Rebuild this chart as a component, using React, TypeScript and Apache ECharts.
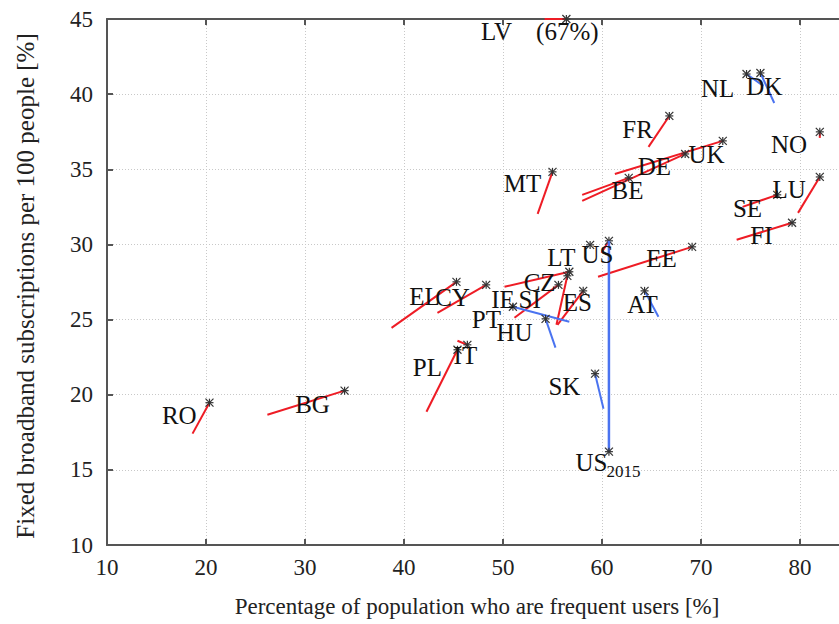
import React, { useEffect, useRef } from "react";
import * as echarts from "echarts";

// Country codes (data points), latest values (star) and earlier values (tail)
const countries = ["LV", "NL", "DK", "FR", "NO", "UK", "DE", "MT", "BE", "LU", "SE", "FI", "EE", "US", "LT", "CZ", "IE", "SI", "ES", "PT", "HU", "AT", "SK", "EL", "CY", "IT", "PL", "RO", "BG"];
const usersNow = [56.4, 74.6, 76.0, 66.8, 82.0, 72.2, 68.4, 55.0, 62.7, 82.0, 77.7, 79.2, 69.1, 60.7, 58.8, 56.7, 56.5, 55.6, 58.1, 51.0, 54.3, 64.3, 59.3, 45.3, 48.3, 46.4, 45.4, 20.35, 34.0];
const broadbandNow = [67.0, 41.34, 41.41, 38.55, 37.49, 36.89, 36.02, 34.83, 34.43, 34.49, 33.3, 31.44, 29.84, 30.24, 29.97, 28.18, 27.91, 27.31, 26.91, 25.85, 25.05, 26.91, 21.4, 27.51, 27.31, 23.32, 22.99, 19.47, 20.27];
const usersPrev = [54.2, 76.3, 77.4, 64.7, 82.0, 61.3, 58.0, 53.5, 58.0, 79.8, 74.2, 73.6, 59.6, 59.95, 58.8, 50.15, 55.4, 51.16, 55.5, 56.7, 55.3, 65.7, 60.15, 38.74, 43.38, 45.4, 42.27, 18.64, 26.2];
const broadbandPrev = [67.0, 40.55, 39.41, 36.49, 37.09, 34.69, 32.9, 32.03, 33.3, 32.1, 32.5, 30.31, 27.85, 29.44, 29.97, 27.18, 24.65, 25.12, 24.65, 24.85, 23.13, 25.19, 19.07, 24.45, 25.45, 23.59, 18.87, 17.41, 18.67];
const trend = ["up", "down", "down", "up", "up", "up", "up", "up", "up", "up", "up", "up", "up", "up", "up", "up", "up", "up", "up", "down", "down", "down", "down", "up", "up", "up", "up", "up", "up"];

// US 2015 reference point
const usUsers2015 = 60.7;
const usBroadband2015 = 16.21;

// Label texts and anchor positions (data units)
const labelText = ["LV", "(67%)", "NL", "DK", "FR", "NO", "UK", "DE", "MT", "BE", "LU", "SE", "FI", "LT", "US", "EE", "EL", "CY", "CZ", "IE", "SI", "ES", "AT", "PT", "HU", "IT", "PL", "SK", "RO", "BG"];
const labelX = [49.35, 56.5, 71.67, 76.4, 63.6, 78.9, 70.56, 65.3, 51.97, 62.58, 78.9, 74.7, 76.1, 55.9, 59.55, 66.0, 42.07, 44.9, 53.7, 50.0, 52.7, 57.5, 64.1, 48.33, 51.16, 46.2, 42.37, 56.2, 17.3, 30.76];
const labelY = [44.14, 44.14, 40.35, 40.48, 37.62, 36.62, 35.96, 35.16, 34.03, 33.56, 33.63, 32.37, 30.57, 29.11, 29.31, 29.04, 26.52, 26.45, 27.45, 26.32, 26.32, 26.12, 25.98, 24.99, 24.12, 22.59, 21.8, 20.53, 18.6, 19.34];
const usLabelMain = "US";
const usLabelSub = "2015";
const usLabelX = 58.94;
const usLabelY = 15.48;

const xTicks = [10, 20, 30, 40, 50, 60, 70, 80];
const yTicks = [10, 15, 20, 25, 30, 35, 40, 45];

const X_MIN = 10, X_MAX = 85, Y_MIN = 10, Y_MAX = 45;
const SERIF = '"Liberation Serif", "Times New Roman", serif';
const RED = "#ee1c25";
const BLUE = "#4a73f0";

export default function App() {
  const ref = useRef<HTMLDivElement>(null);
  useEffect(() => {
    if (!ref.current) return;
    const chart = echarts.init(ref.current, null, { renderer: "svg" });
    const clampY = (v: number) => Math.min(v, Y_MAX);

    const starShape = (cx: number, cy: number) => {
      const r = 4;
      const st = { stroke: "#333", lineWidth: 1.2 };
      return [
        { type: "line", shape: { x1: cx - r, y1: cy, x2: cx + r, y2: cy }, style: st },
        { type: "line", shape: { x1: cx, y1: cy - r, x2: cx, y2: cy + r }, style: st },
        { type: "line", shape: { x1: cx - r, y1: cy - r, x2: cx + r, y2: cy + r }, style: st },
        { type: "line", shape: { x1: cx - r, y1: cy + r, x2: cx + r, y2: cy - r }, style: st },
      ];
    };

    const axisCommon = {
      axisLine: { show: true, lineStyle: { color: "#555", width: 2 } },
      axisTick: { show: true, inside: true, length: 6, lineStyle: { color: "#555", width: 2 } },
    };

    const option: any = {
      animation: false,
      backgroundColor: "#fff",
      grid: { left: 107, top: 19, width: (X_MAX - X_MIN) * 9.9, height: 526, containLabel: false },
      xAxis: [
        {
          type: "value", min: X_MIN, max: X_MAX, interval: 10, position: "bottom",
          ...axisCommon,
          axisLabel: {
            fontFamily: SERIF, fontSize: 23, color: "#222", margin: 11,
            formatter: (v: number) => (xTicks.includes(v) ? String(v) : ""),
          },
          splitLine: { show: true, lineStyle: { color: "#c8c8c8", type: [1, 2], width: 1 } },
        },
        {
          type: "value", min: X_MIN, max: X_MAX, interval: 10, position: "top",
          ...axisCommon,
          axisLabel: { show: false },
          splitLine: { show: false },
        },
      ],
      yAxis: [
        {
          type: "value", min: Y_MIN, max: Y_MAX, interval: 5, position: "left",
          ...axisCommon,
          axisLabel: {
            fontFamily: SERIF, fontSize: 23, color: "#222", margin: 14,
            formatter: (v: number) => (yTicks.includes(v) ? String(v) : ""),
          },
          splitLine: { show: true, lineStyle: { color: "#c8c8c8", type: [1, 2], width: 1 } },
        },
      ],
      graphic: [
        {
          type: "text", x: 477, y: 606,
          style: { text: "Percentage of population who are frequent users [%]", font: `23px ${SERIF}`, fill: "#222", align: "center", verticalAlign: "middle" },
        },
        {
          type: "text", x: 25, y: 286, rotation: Math.PI / 2,
          style: { text: "Fixed broadband subscriptions per 100 people [%]", font: `25px ${SERIF}`, fill: "#222", align: "center", verticalAlign: "middle" },
        },
      ],
      series: [
        {
          type: "custom",
          coordinateSystem: "cartesian2d",
          clip: false,
          z: 3,
          data: countries.map((_, i) => [usersNow[i], clampY(broadbandNow[i])]),
          encode: { x: 0, y: 1 },
          renderItem: (params: any, api: any) => {
            const i = params.dataIndex;
            const p0 = api.coord([usersPrev[i], clampY(broadbandPrev[i])]);
            const p1 = api.coord([usersNow[i], clampY(broadbandNow[i])]);
            return {
              type: "group",
              children: [
                { type: "line", shape: { x1: p0[0], y1: p0[1], x2: p1[0], y2: p1[1] }, style: { stroke: trend[i] === "down" ? BLUE : RED, lineWidth: 2 } },
                ...starShape(p1[0], p1[1]),
              ],
            };
          },
        },
        {
          type: "custom",
          coordinateSystem: "cartesian2d",
          clip: false,
          z: 3,
          data: [[usUsers2015, usBroadband2015]],
          encode: { x: 0, y: 1 },
          renderItem: (params: any, api: any) => {
            const usIdx = countries.indexOf("US");
            const p0 = api.coord([usersNow[usIdx], broadbandNow[usIdx]]);
            const p1 = api.coord([usUsers2015, usBroadband2015]);
            return {
              type: "group",
              children: [
                { type: "line", shape: { x1: p1[0], y1: p0[1], x2: p1[0], y2: p1[1] }, style: { stroke: BLUE, lineWidth: 2.5 } },
                ...starShape(p1[0], p1[1]),
              ],
            };
          },
        },
        {
          type: "custom",
          coordinateSystem: "cartesian2d",
          clip: false,
          z: 5,
          data: labelText.map((_, i) => [labelX[i], labelY[i]]),
          encode: { x: 0, y: 1 },
          renderItem: (params: any, api: any) => {
            const i = params.dataIndex;
            const p = api.coord([labelX[i], labelY[i]]);
            return {
              type: "text",
              x: p[0], y: p[1],
              style: { text: labelText[i], font: `25px ${SERIF}`, fill: "#111", align: "center", verticalAlign: "middle" },
            };
          },
        },
        {
          type: "custom",
          coordinateSystem: "cartesian2d",
          clip: false,
          z: 5,
          data: [[usLabelX, usLabelY]],
          encode: { x: 0, y: 1 },
          renderItem: (params: any, api: any) => {
            const p = api.coord([usLabelX, usLabelY]);
            return {
              type: "group",
              children: [
                { type: "text", x: p[0], y: p[1], style: { text: usLabelMain, font: `25px ${SERIF}`, fill: "#111", align: "center", verticalAlign: "middle" } },
                { type: "text", x: p[0] + 15, y: p[1] + 9, style: { text: usLabelSub, font: `17px ${SERIF}`, fill: "#111", align: "left", verticalAlign: "middle" } },
              ],
            };
          },
        },
      ],
    };
    chart.setOption(option);
    return () => chart.dispose();
  }, []);
  return (
    <div style={{ position: "fixed", left: 0, top: 0, width: 839, height: 624, overflow: "hidden", background: "#fff" }}>
      <div ref={ref} style={{ width: 880, height: 624 }} />
    </div>
  );
}
